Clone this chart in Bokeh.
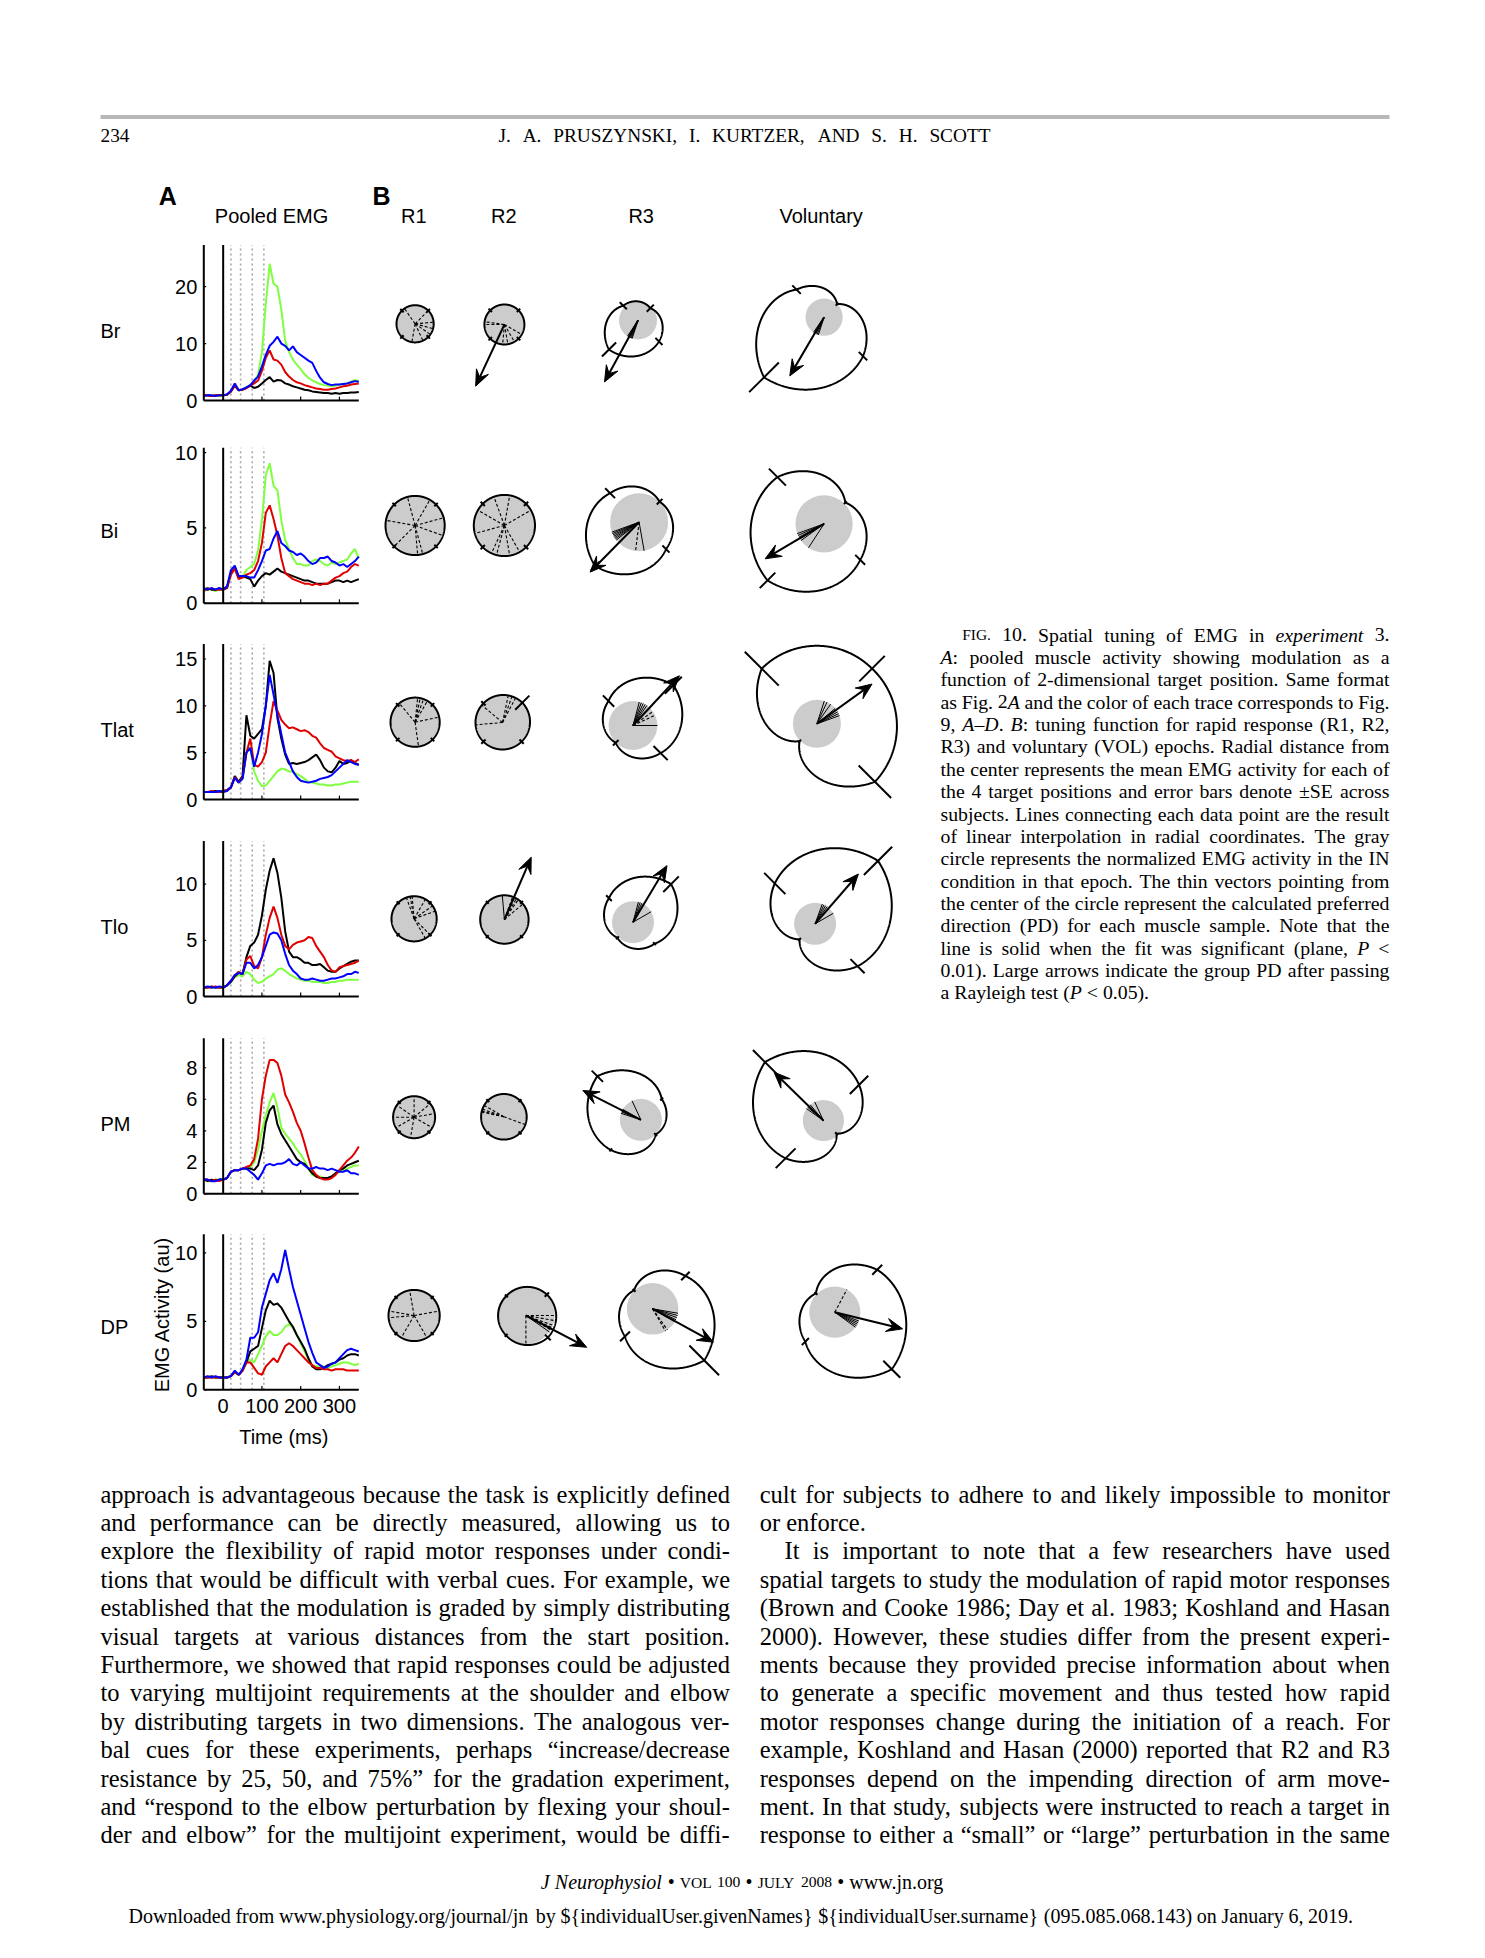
import numpy as np
from collections import defaultdict
from bokeh.plotting import figure
from bokeh.models import Range1d
from bokeh.core.properties import value
from bokeh.embed import file_html
from bokeh.resources import INLINE

# ====================== DATA ======================
MUSCLES = ["Br", "Bi", "Tlat", "Tlo", "PM", "DP"]
EPOCHS = ["R1", "R2", "R3", "Voluntary"]
T_MS = list(range(-50, 351, 10))
EPOCH_EDGES_MS = [20, 45, 75, 105]
Y_LIMITS = [27.3, 10.33, 16.6, 13.84, 9.87, 11.35]
Y_TICKS = [[0, 10, 20], [0, 5, 10], [0, 5, 10, 15], [0, 5, 10], [0, 2, 4, 6, 8], [0, 5, 10]]
X_TICKS = [0, 100, 200, 300]

EMG_BLACK = {
    "Br": [0.9,0.9,0.8,0.9,0.9,0.9,1.0,1.6,2.6,1.8,1.9,2.2,
           2.6,2.2,2.4,3.0,3.6,4.1,3.3,3.6,3.5,3.0,2.8,2.5,2.3,2.1,1.9,1.8,1.6,1.5,1.4,1.3,1.3,1.2,1.3,1.2,1.3,1.3,1.4,1.4,1.5],
    "Bi": [0.9,1.0,0.9,0.9,1.0,0.9,1.1,2.0,2.3,1.7,1.8,1.7,
           1.6,1.1,1.5,1.8,2.0,1.9,2.1,2.3,2.1,2.0,1.9,1.8,1.7,1.6,1.5,1.5,1.4,1.3,1.3,1.3,1.3,1.4,1.5,1.5,1.4,1.5,1.4,1.5,1.6],
    "Tlat": [0.8,0.8,0.8,0.9,0.8,0.9,1.0,1.3,2.5,1.9,2.5,9.0,
             6.8,6.5,7.0,7.5,10.0,14.8,13.5,8.7,6.5,4.8,3.8,3.9,3.8,3.9,4.0,4.2,4.5,4.8,4.2,3.4,3.0,2.9,3.4,4.1,3.8,3.9,4.2,3.9,3.7],
    "Tlo": [0.8,0.8,0.9,0.8,0.8,0.8,1.0,1.3,1.8,2.1,2.0,3.5,
            4.5,4.8,5.5,7.2,9.5,11.2,12.3,11.0,8.8,5.8,4.0,3.5,3.5,3.3,3.0,3.0,2.8,2.8,2.9,2.6,2.3,2.2,2.2,2.5,2.7,2.9,3.1,3.2,3.2],
    "PM": [0.9,0.8,0.9,0.8,0.9,0.9,1.0,1.4,1.5,1.5,1.6,1.6,
           1.6,1.5,1.8,2.8,4.5,5.3,5.6,4.4,3.8,3.4,3.0,2.6,2.2,2.0,1.9,1.6,1.3,1.1,1.0,1.0,1.0,1.1,1.3,1.5,1.6,1.8,1.9,2.0,2.1],
    "DP": [0.9,0.9,1.0,0.9,0.9,0.9,0.9,1.0,1.3,1.1,1.4,2.0,
           2.8,3.0,3.2,4.5,5.8,6.5,6.2,6.3,6.0,5.5,5.0,4.6,4.0,3.5,3.0,2.3,1.7,1.5,1.5,1.6,1.8,1.9,2.0,2.2,2.3,2.5,2.6,2.6,2.5],
}
EMG_GREEN = {
    "Br": [0.9,0.8,0.9,0.9,0.8,0.9,1.0,1.6,2.7,1.8,1.9,2.3,
           2.7,3.3,4.5,8.5,17.0,24.0,20.5,20.0,16.0,10.5,8.5,7.2,6.3,5.5,4.6,4.0,3.5,3.2,2.9,2.7,2.6,2.5,2.6,2.8,2.9,3.0,3.3,3.6,3.4],
    "Bi": [0.8,0.9,0.9,0.8,0.9,0.9,1.0,1.9,2.4,1.7,1.8,2.2,
           2.4,2.6,3.5,5.5,8.5,9.3,7.8,7.5,5.5,4.2,3.6,3.0,2.6,2.6,2.5,2.5,2.8,2.9,2.8,2.6,2.5,2.7,2.6,2.7,2.8,2.9,3.3,3.6,3.0],
    "Tlat": [0.8,0.8,0.8,0.9,0.8,0.8,1.0,1.3,2.4,1.8,2.2,5.0,
             5.5,3.0,2.0,1.4,1.5,2.0,2.5,3.0,3.3,3.2,3.0,3.0,2.7,2.5,2.2,1.9,1.8,1.7,1.6,1.6,1.5,1.5,1.6,1.6,1.7,1.8,1.9,1.9,1.9],
    "Tlo": [0.8,0.8,0.8,0.8,0.8,0.9,1.0,1.3,1.7,1.9,1.8,2.2,
            2.0,1.5,1.2,1.3,1.6,1.8,2.0,2.4,2.5,2.3,2.0,1.8,1.6,1.5,1.4,1.4,1.3,1.3,1.3,1.2,1.2,1.3,1.3,1.4,1.4,1.5,1.5,1.5,1.5],
    "PM": [0.9,0.8,0.8,0.9,0.9,0.9,1.0,1.4,1.5,1.5,1.6,1.6,
           1.7,2.0,2.8,4.0,5.0,5.8,6.4,5.5,4.2,3.8,3.5,3.2,2.8,2.5,2.1,1.6,1.2,1.1,1.1,1.0,1.0,1.1,1.3,1.4,1.5,1.6,1.7,1.8,1.8],
    "DP": [0.9,0.9,0.9,0.9,0.9,0.9,0.9,1.0,1.3,1.1,1.4,2.0,
           2.2,2.0,2.6,3.2,3.9,4.3,4.0,4.0,4.2,4.6,4.8,4.5,4.0,3.4,2.8,2.2,1.8,1.7,1.7,1.7,1.6,1.7,1.8,1.9,2.0,2.0,1.9,1.8,1.9],
}
EMG_RED = {
    "Br": [0.9,0.9,0.8,0.9,0.9,0.9,1.0,1.6,2.7,1.8,1.9,2.2,
           2.6,3.0,3.5,5.2,7.5,8.8,7.2,7.0,6.3,5.0,4.2,3.6,3.2,3.0,2.7,2.5,2.3,2.1,2.0,1.9,1.9,2.0,2.1,2.3,2.5,2.6,2.8,2.9,3.0],
    "Bi": [0.9,0.9,1.0,0.9,0.9,0.9,1.0,1.9,2.3,1.6,1.7,1.9,
           2.0,2.2,2.8,4.0,6.0,6.5,5.6,4.5,3.0,2.0,1.8,1.6,1.5,1.4,1.3,1.3,1.2,1.3,1.2,1.3,1.3,1.5,1.7,1.8,2.0,2.1,2.4,2.6,2.5],
    "Tlat": [0.8,0.8,0.9,0.8,0.8,0.9,1.0,1.3,2.4,1.8,2.3,5.0,
             6.5,3.7,3.5,4.0,5.0,8.0,10.5,9.5,8.5,8.0,7.6,7.7,7.5,7.3,7.4,7.2,6.8,6.6,6.0,5.5,5.3,5.1,4.6,4.4,4.2,4.1,4.2,4.0,4.3],
    "Tlo": [0.8,0.8,0.8,0.9,0.8,0.8,1.0,1.4,1.9,2.2,2.0,3.3,
            3.6,2.7,2.5,3.5,5.5,7.0,8.0,7.0,5.5,4.5,4.2,4.6,4.8,4.9,5.0,5.3,5.2,4.5,4.0,3.5,2.8,2.3,2.2,2.6,2.7,2.8,2.9,3.0,3.2],
    "PM": [0.9,0.9,0.8,0.9,0.8,0.9,1.0,1.4,1.5,1.5,1.6,1.7,
           1.8,2.2,3.5,6.0,7.5,8.5,8.5,8.3,7.5,6.3,5.8,5.2,4.5,4.0,3.2,2.3,1.5,1.2,1.0,0.9,0.9,1.0,1.2,1.5,1.8,2.1,2.3,2.6,3.0],
    "DP": [0.9,0.9,0.9,0.9,0.9,0.9,0.9,1.0,1.3,1.1,1.4,2.0,
           2.0,1.6,1.2,1.1,1.7,2.0,2.3,2.0,2.6,3.2,3.4,3.2,2.9,2.6,2.3,2.0,1.8,1.6,1.6,1.5,1.5,1.4,1.5,1.5,1.5,1.4,1.4,1.4,1.4],
}
EMG_BLUE = {
    "Br": [0.8,0.9,0.9,0.8,0.9,0.9,1.1,1.7,3.0,1.8,2.0,2.3,
           2.7,3.5,4.2,6.0,8.0,9.6,10.3,11.2,10.0,9.6,8.8,9.5,8.5,8.0,7.5,7.0,6.6,5.2,4.0,3.2,2.9,2.7,2.8,2.8,2.9,3.0,3.2,3.4,3.3],
    "Bi": [1.0,0.9,1.0,0.9,1.0,0.9,1.1,2.2,2.5,1.8,1.8,1.8,
           1.7,1.7,2.2,2.8,3.5,3.6,4.3,4.8,4.0,3.8,3.5,3.4,3.2,3.3,3.1,2.8,2.6,2.7,3.0,3.0,3.1,2.8,2.7,2.5,2.6,2.4,2.6,2.8,3.1],
    "Tlat": [0.8,0.8,0.8,0.8,0.9,0.8,0.9,1.3,2.3,1.8,2.2,5.0,
             5.5,3.5,5.0,7.0,10.0,13.3,11.2,9.0,7.0,5.0,4.0,3.0,2.4,2.0,1.9,1.8,1.9,2.0,2.2,2.3,2.4,2.6,3.0,3.4,3.8,4.2,4.0,3.8,3.7],
    "Tlo": [0.8,0.9,0.8,0.8,0.9,0.8,1.0,1.4,1.9,2.1,2.0,3.0,
            3.0,2.5,2.8,3.5,4.5,5.5,5.7,5.6,5.0,3.8,2.8,2.3,2.0,1.6,1.5,1.5,1.6,1.5,1.4,1.4,1.5,1.6,1.6,1.7,1.8,2.0,2.0,2.2,2.1],
    "PM": [0.9,0.9,0.8,0.8,0.9,0.9,1.0,1.4,1.5,1.5,1.6,1.6,
           1.4,1.2,0.9,1.3,1.8,1.9,1.8,1.9,1.9,2.0,2.2,1.9,1.8,2.0,1.8,1.6,1.6,1.7,1.6,1.6,1.5,1.6,1.5,1.4,1.4,1.5,1.3,1.3,1.2],
    "DP": [0.9,1.0,0.9,1.0,0.9,0.9,0.9,1.0,1.4,1.1,1.5,2.2,
           3.8,3.8,4.2,6.0,7.0,8.0,8.5,7.8,8.8,10.2,8.8,7.5,6.5,5.5,4.5,3.5,2.7,2.0,1.8,1.6,1.7,1.9,2.0,2.3,2.6,2.9,3.0,2.9,2.8],
}
TRACE_ORDER = [("green", EMG_GREEN), ("black", EMG_BLACK), ("red", EMG_RED), ("blue", EMG_BLUE)]
TRACE_COLORS = {"green": "#80ff40", "black": "#000000", "red": "#e00000", "blue": "#0000ff"}

# polar tuning (normalized units), target directions in degrees
TARGET_DIRS = [45, 135, 225, 315]
GRAY_R = [[0.93, 1.00, 0.95, 0.93],
          [1.48, 1.53, 1.45, 1.43],
          [1.23, 1.35, 1.22, 1.20],
          [1.13, 1.21, 1.05, 1.05],
          [1.05, 1.14, 1.05, 1.03],
          [1.28, 1.44, 1.29, 1.28]]
TUNING_R = [
    [[0.93, 0.93, 0.93, 0.93], [1.0, 1.0, 1.0, 1.0], [0.87, 1.04, 2.05, 1.48], [0.92, 1.95, 4.25, 2.75]],
    [[1.48, 1.48, 1.48, 1.48], [1.53, 1.53, 1.53, 1.53], [1.45, 2.05, 3.1, 1.9], [1.5, 3.3, 4.0, 2.55]],
    [[1.23, 1.23, 1.23, 1.23], [1.4, 1.35, 1.35, 1.35], [2.85, 1.73, 1.22, 1.95], [3.9, 3.9, 1.22, 4.1]],
    [[1.13, 1.13, 1.13, 1.13], [1.21, 1.21, 1.21, 1.21], [2.69, 1.7, 1.1, 1.52], [4.45, 2.85, 1.1, 3.0]],
    [[1.05, 1.05, 1.05, 1.05], [1.14, 1.14, 1.14, 1.14], [1.47, 3.08, 2.13, 1.04], [2.52, 4.13, 2.67, 0.93]],
    [[1.28, 1.28, 1.28, 1.28], [1.48, 1.38, 1.4, 1.55], [2.32, 1.31, 1.95, 3.65], [3.0, 1.33, 2.08, 4.03]],
]
TUNING_SE = [
    [[0.12, 0.12, 0.12, 0.12], [0.12, 0.12, 0.12, 0.12], [0.25, 0.25, 0.5, 0.25], [0.1, 0.3, 1.05, 0.3]],
    [[0.12, 0.12, 0.12, 0.12], [0.15, 0.15, 0.15, 0.15], [0.2, 0.35, 0.3, 0.25], [0.1, 0.6, 0.55, 0.35]],
    [[0.12, 0.12, 0.12, 0.12], [0.5, 0.15, 0.15, 0.15], [0.6, 0.4, 0.2, 0.5], [0.9, 1.2, 0.1, 1.15]],
    [[0.1, 0.1, 0.1, 0.1], [0.1, 0.1, 0.1, 0.1], [0.55, 0.2, 0.1, 0.1], [1.0, 0.75, 0.1, 0.5]],
    [[0.1, 0.1, 0.1, 0.1], [0.1, 0.1, 0.1, 0.1], [0.1, 0.4, 0.1, 0.1], [0.65, 0.85, 0.7, 0.1]],
    [[0.1, 0.1, 0.1, 0.1], [0.15, 0.1, 0.1, 0.2], [0.3, 0.1, 0.35, 1.05], [0.35, 0.1, 0.25, 0.6]],
]
PD_ARROW_DEG = [[None, 245.0, 241.4, 239.7],
                [None, None, 225.5, 210.7],
                [None, None, 47.0, 35.8],
                [None, 66.7, 59.0, 49.0],
                [None, None, 153.2, 135.6],
                [None, -27.6, -28.8, -13.8]]
PD_ARROW_LEN = [[0, 3.4, 3.5, 3.4],
                [0, 0, 3.5, 3.43],
                [0, 0, 3.4, 3.4],
                [0, 3.39, 3.3, 3.3],
                [0, 0, 3.25, 3.45],
                [0, 3.43, 3.47, 3.49]]
THIN_SOLID_DEG = [
    [[], [], [236, 240, 243, 246, 249, 252], [235, 240, 244, 248, 252]],
    [[], [], [200, 203, 206, 209, 212, 215, 218, -80], [200, 204, 208, 212, 216, 237]],
    [[], [], [55, 60, 65, 70, 75, 0], [20, 25, 30, 40, 55, 65, 72]],
    [[], [95], [60, 65, 70, 75, 30], [55, 60, 65, 70, 30]],
    [[], [], [150, 155, 158, 162, 115], [130, 135, 140, 145, 115]],
    [[], [-35], [-10, -15, -20, -25, -30], [-20, -24, -28, -32, -36]],
]
THIN_DASHED_DEG = [
    [[125, 45, 5, -15, -35, -65, -100], [180, 172, -30, -60, -80, -95], [], []],
    [[170, 105, 60, 15, -20, -75, -85, -135], [110, 80, 150, 195, -105, -115, -80, -60, 30], [-97], []],
    [[130, 84, 78, 70, 60, 12, -82], [140, 185, 62, 70, 78], [25, 35], []],
    [[95, 100, 110, 60, 35, 20, -45, -60], [55, 60, 65, 70, 40], [], []],
    [[90, 40, -30, -100, -150, 180, 145, 10], [150, 160, 165, 168, -20], [], []],
    [[100, 170, 185, 10, -120, -60], [-90, 0, -10, -20, -25, -30], [-55, -60], [62]],
]

CAPTION = [
    "^FIG.^ 10.  Spatial tuning of EMG in *experiment* 3.",
    "*A*: pooled muscle activity showing modulation as a",
    "function of 2-dimensional target position. Same format",
    "as Fig. 2*A* and the color of each trace corresponds to Fig.",
    "9, *A–D*. *B*: tuning function for rapid response (R1, R2,",
    "R3) and voluntary (VOL) epochs. Radial distance from",
    "the center represents the mean EMG activity for each of",
    "the 4 target positions and error bars denote ±SE across",
    "subjects. Lines connecting each data point are the result",
    "of linear interpolation in radial coordinates. The gray",
    "circle represents the normalized EMG activity in the IN",
    "condition in that epoch. The thin vectors pointing from",
    "the center of the circle represent the calculated preferred",
    "direction (PD) for each muscle sample. Note that the",
    "line is solid when the fit was significant (plane, *P* <",
    "0.01). Large arrows indicate the group PD after passing",
    "a Rayleigh test (*P* < 0.05).",
]
BODY_LEFT = [
    "approach is advantageous because the task is explicitly defined",
    "and performance can be directly measured, allowing us to",
    "explore the flexibility of rapid motor responses under condi-",
    "tions that would be difficult with verbal cues. For example, we",
    "established that the modulation is graded by simply distributing",
    "visual targets at various distances from the start position.",
    "Furthermore, we showed that rapid responses could be adjusted",
    "to varying multijoint requirements at the shoulder and elbow",
    "by distributing targets in two dimensions. The analogous ver-",
    "bal cues for these experiments, perhaps “increase/decrease",
    "resistance by 25, 50, and 75%” for the gradation experiment,",
    "and “respond to the elbow perturbation by flexing your shoul-",
    "der and elbow” for the multijoint experiment, would be diffi-",
]
BODY_RIGHT = [
    "cult for subjects to adhere to and likely impossible to monitor",
    "or enforce.",
    "It is important to note that a few researchers have used",
    "spatial targets to study the modulation of rapid motor responses",
    "(Brown and Cooke 1986; Day et al. 1983; Koshland and Hasan",
    "2000). However, these studies differ from the present experi-",
    "ments because they provided precise information about when",
    "to generate a specific movement and thus tested how rapid",
    "motor responses change during the initiation of a reach. For",
    "example, Koshland and Hasan (2000) reported that R2 and R3",
    "responses depend on the impending direction of arm move-",
    "ment. In that study, subjects were instructed to reach a target in",
    "response to either a “small” or “large” perturbation in the same",
]
HEADER = "J. A. PRUSZYNSKI, I. KURTZER, AND S. H. SCOTT"
PAGE_NO = "234"
FOOTER1 = "*J Neurophysiol* • ^VOL 100^ • ^JULY 2008^ • www.jn.org"
FOOTER2 = ("Downloaded from www.physiology.org/journal/jn by ${individualUser.givenNames} "
           "${individualUser.surname} (095.085.068.143) on January 6, 2019.")

# ====================== PAGE / LAYOUT ======================
W, H = 1469, 1942
SANS = "Liberation Sans"
SERIF = "Liberation Serif"
BASE_SHIFT = 6.5   # alphabetic-baseline correction


def Y(y):
    return 1958.0 - y


p = figure(width=W, height=H, x_range=Range1d(0, W), y_range=Range1d(1958 - H, 1958),
           output_backend="svg", toolbar_location=None, min_border=0,
           x_axis_location=None, y_axis_location=None)
p.grid.visible = False
p.outline_line_color = None
p.background_fill_color = "white"
p.border_fill_color = "white"

TEXT = defaultdict(lambda: {"x": [], "y": [], "text": []})


def put(x, y, s, font, size, style="normal", align="left", baseline="alphabetic", angle=0.0):
    if baseline == "alphabetic":
        y = y - BASE_SHIFT
    g = TEXT[(font, round(size, 2), style, align, baseline, angle)]
    g["x"].append(x)
    g["y"].append(Y(y))
    g["text"].append(s)


# Times metrics (1/1000 em)
TR = {' ': 250, '!': 333, '"': 408, '#': 500, '$': 500, '%': 833, '&': 778, "'": 333, '(': 333, ')': 333,
      '*': 500, '+': 564, ',': 250, '-': 333, '.': 250, '/': 278, ':': 278, ';': 278, '<': 564, '=': 564,
      '>': 564, '?': 444, '@': 921, '[': 333, ']': 333, '_': 500, '{': 480, '|': 200, '}': 480, '~': 541,
      '“': 444, '”': 444, '–': 500, '•': 350, '±': 564, '’': 333}
for c in "0123456789":
    TR[c] = 500
TR.update(dict(zip("ABCDEFGHIJKLMNOPQRSTUVWXYZ",
                   [722, 667, 667, 722, 611, 556, 722, 722, 333, 389, 722, 611, 889, 722, 722, 556, 722, 667,
                    556, 611, 722, 722, 944, 722, 722, 611])))
TR.update(dict(zip("abcdefghijklmnopqrstuvwxyz",
                   [444, 500, 444, 500, 444, 333, 500, 500, 278, 278, 500, 278, 778, 500, 500, 500, 500, 333,
                    389, 278, 500, 500, 722, 500, 500, 444])))
TI = dict(zip("ABCDEFGHIJKLMNOPQRSTUVWXYZ",
              [611, 611, 667, 722, 611, 611, 722, 722, 333, 444, 667, 556, 833, 667, 722, 611, 722, 611, 500,
               556, 722, 611, 833, 611, 556, 556]))
TI.update(dict(zip("abcdefghijklmnopqrstuvwxyz",
                   [500, 500, 444, 500, 444, 278, 500, 500, 278, 278, 444, 278, 722, 500, 500, 500, 500, 389,
                    389, 278, 500, 444, 667, 444, 444, 389])))


def seg_w(s, size, it):
    return sum((TI[c] if (it and c in TI) else TR.get(c, 500)) for c in s) * size / 1000.0


def parse_line(line):
    words, cur_word, cur = [], [], ""
    it = sc = False
    for ch in line:
        if ch in "*^":
            if cur:
                cur_word.append((cur, it, sc))
                cur = ""
            if ch == "*":
                it = not it
            else:
                sc = not sc
        elif ch == " ":
            if cur:
                cur_word.append((cur, it, sc))
                cur = ""
            if cur_word:
                words.append(cur_word)
                cur_word = []
        else:
            cur += ch
    if cur:
        cur_word.append((cur, it, sc))
    if cur_word:
        words.append(cur_word)
    return words


def line_out(line, x0, x1, yb, size, justify=True, font=SERIF):
    items = []
    for w in parse_line(line):
        segs = []
        for (s, it, sc) in w:
            sz = size * 0.78 if sc else size
            s2 = s.upper() if sc else s
            segs.append((s2, it, sz, seg_w(s2, sz, it)))
        items.append(segs)
    widths = [sum(q[3] for q in segs) for segs in items]
    n = len(items)
    gap = (x1 - x0 - sum(widths)) / (n - 1) if (justify and n > 1) else 0.25 * size
    x = x0
    for segs, wd in zip(items, widths):
        xx = x
        for (s, it, sz, sw) in segs:
            put(xx, yb, s, font, sz, "italic" if it else "normal")
            xx += sw
        x += wd + gap


# ---------- header ----------
p.segment(x0=[100], y0=[Y(116.5)], x1=[1389], y1=[Y(116.5)], line_color="#b8b8b8", line_width=4)
put(100, 141.7, PAGE_NO, SERIF, 19.3)
line_out(HEADER, 498, 990, 141.7, 19.3)

# ---------- panel titles ----------
put(158.3, 201.7, "A", SANS, 25, "bold")
put(372, 201.7, "B", SANS, 25, "bold")
put(271, 221.7, "Pooled EMG", SANS, 20, align="center")
for lab, xc in zip(EPOCHS, [413.4, 503.4, 640.7, 820.6]):
    put(xc, 221.7, lab, SANS, 20, align="center")

# ---------- EMG panels ----------
EMG_X0, EMG_X1 = 203.3, 358.3
EMG_ZERO_Y = [400.0, 602.7, 799.0, 996.0, 1193.3, 1389.3]
EMG_H = 155.5
MUSCLE_LABEL_Y = [336.7, 536.7, 735.7, 933.3, 1130.0, 1333.3]

for i, m in enumerate(MUSCLES):
    ylim = Y_LIMITS[i]
    sub = p.subplot(x_source=Range1d(-50, 350), y_source=Range1d(0, ylim),
                    x_target=Range1d(EMG_X0, EMG_X1),
                    y_target=Range1d(Y(EMG_ZERO_Y[i]), Y(EMG_ZERO_Y[i]) + EMG_H))
    sub.segment(x0=EPOCH_EDGES_MS, y0=[0] * 4, x1=EPOCH_EDGES_MS, y1=[ylim] * 4,
                line_color="#a8a8a8", line_dash="2 3", line_width=1.6)
    for cname, dset in TRACE_ORDER:
        sub.line(x=T_MS, y=dset[m], line_color=TRACE_COLORS[cname], line_width=2)
    sub.segment(x0=[0, -50, -50], y0=[0, 0, 0], x1=[0, -50, 350], y1=[ylim, ylim, 0],
                line_color="black", line_width=2)
    sub.segment(x0=X_TICKS[1:], y0=[0] * 3, x1=X_TICKS[1:], y1=[ylim * 0.025] * 3,
                line_color="black", line_width=1.2)
    yt = Y_TICKS[i]
    sub.segment(x0=[-50] * len(yt), y0=yt, x1=[-44] * len(yt), y1=yt, line_color="black", line_width=1.2)
    sub.text(x=[-50] * len(yt), y=yt, text=[str(v) for v in yt], x_offset=-6.5,
             text_font=value(SANS), text_font_size="20px", text_align="right", text_baseline="middle")
    if i == len(MUSCLES) - 1:
        sub.text(x=X_TICKS, y=[0] * 4, text=[str(v) for v in X_TICKS], y_offset=22.4 - BASE_SHIFT,
                 text_font=value(SANS), text_font_size="20px", text_align="center",
                 text_baseline="alphabetic")
    put(100, MUSCLE_LABEL_Y[i], m, SANS, 20)

put(283.3, 1443.3, "Time (ms)", SANS, 20, align="center")
put(161.0, 1314.0, "EMG Activity (au)", SANS, 20, align="center", baseline="middle", angle=np.pi / 2)

# ---------- polar tuning plots ----------
K = 20.0
POLAR_CX = [[414.6, 503.9, 637.5, 823.6], [414.6, 503.9, 638.6, 823.6], [414.6, 502.0, 632.5, 816.4],
            [413.6, 503.9, 632.5, 814.6], [413.6, 503.4, 640.4, 822.9], [413.6, 525.4, 652.1, 834.3]]
POLAR_CY = [[323.3, 324.0, 320.0, 316.7], [525.0, 525.0, 521.7, 523.3], [721.7, 722.0, 725.0, 723.3],
            [918.3, 919.0, 921.7, 923.3], [1116.7, 1116.3, 1119.3, 1120.0], [1315.0, 1315.0, 1308.3, 1311.7]]
theta = np.linspace(0, 360, 721)
th_rad = np.deg2rad(theta)
dirs = np.deg2rad(np.array(TARGET_DIRS, dtype=float))

for i in range(len(MUSCLES)):
    for j in range(len(EPOCHS)):
        cx, cy = POLAR_CX[i][j], POLAR_CY[i][j]
        sub = p.subplot(x_source=Range1d(-5, 5), y_source=Range1d(-5, 5),
                        x_target=Range1d(cx - 5 * K, cx + 5 * K),
                        y_target=Range1d(Y(cy) - 5 * K, Y(cy) + 5 * K))
        g = GRAY_R[i][j]
        sub.circle(x=[0], y=[0], radius=g, fill_color="#cccccc", line_color=None)
        sol = np.deg2rad(np.array(THIN_SOLID_DEG[i][j], dtype=float))
        if len(sol):
            sub.segment(x0=[0] * len(sol), y0=[0] * len(sol), x1=g * np.cos(sol), y1=g * np.sin(sol),
                        line_color="black", line_width=1)
        das = np.deg2rad(np.array(THIN_DASHED_DEG[i][j], dtype=float))
        if len(das):
            sub.segment(x0=[0] * len(das), y0=[0] * len(das), x1=g * np.cos(das), y1=g * np.sin(das),
                        line_color="black", line_width=1.1, line_dash="3 2")
        rr = np.array(TUNING_R[i][j], dtype=float)
        r = np.interp(theta, TARGET_DIRS, rr, period=360)
        sub.line(x=r * np.cos(th_rad), y=r * np.sin(th_rad), line_color="black", line_width=2)
        se = np.array(TUNING_SE[i][j], dtype=float)
        sub.segment(x0=(rr - se) * np.cos(dirs), y0=(rr - se) * np.sin(dirs),
                    x1=(rr + se) * np.cos(dirs), y1=(rr + se) * np.sin(dirs),
                    line_color="black", line_width=2)
        ang = PD_ARROW_DEG[i][j]
        if ang is not None:
            L = PD_ARROW_LEN[i][j]
            a = np.deg2rad(ang)
            ux, uy = np.cos(a), np.sin(a)
            nx, ny = -uy, ux
            hl, hw = 0.8, 0.33
            tip = (L * ux, L * uy)
            back = (tip[0] - hl * ux, tip[1] - hl * uy)
            notch = (tip[0] - 0.6 * hl * ux, tip[1] - 0.6 * hl * uy)
            sub.segment(x0=[0], y0=[0], x1=[notch[0]], y1=[notch[1]], line_color="black", line_width=2)
            sub.patch(x=[tip[0], back[0] + hw * nx, notch[0], back[0] - hw * nx],
                      y=[tip[1], back[1] + hw * ny, notch[1], back[1] - hw * ny],
                      fill_color="black", line_color="black", line_width=1)

# ---------- caption ----------
CAP_X0, CAP_X1 = 940.0, 1389.0
for k, ln in enumerate(CAPTION):
    yb = 640.7 + k * 22.35
    if k == 0:
        line_out(ln, 961.7, CAP_X1, yb, 19.8)
    else:
        line_out(ln, CAP_X0, CAP_X1, yb, 19.8, justify=(k != len(CAPTION) - 1))

# ---------- body ----------
BODY_Y0, BODY_DY, BODY_FS = 1500.0, 28.4, 24.5
for k, ln in enumerate(BODY_LEFT):
    line_out(ln, 100.0, 729.5, BODY_Y0 + k * BODY_DY, BODY_FS)
for k, ln in enumerate(BODY_RIGHT):
    yb = BODY_Y0 + k * BODY_DY
    if k == 1:
        line_out(ln, 759.2, 1389.5, yb, BODY_FS, justify=False)
    elif k == 2:
        line_out(ln, 784.0, 1389.5, yb, BODY_FS)
    else:
        line_out(ln, 759.2, 1389.5, yb, BODY_FS)

# ---------- footer ----------
line_out(FOOTER1, 540.3, 944.4, 1888.0, 20)
line_out(FOOTER2, 128.0, 1352.6, 1921.7, 20)

# ---------- emit text ----------
for (font, size, style, align, baseline, angle), g in TEXT.items():
    p.text(x=g["x"], y=g["y"], text=g["text"], text_font=value(font), text_font_size=f"{size}px",
           text_font_style=style, text_align=align, text_baseline=baseline, angle=angle,
           text_color="black")

open("out.html", "w").write(file_html(p, INLINE))
